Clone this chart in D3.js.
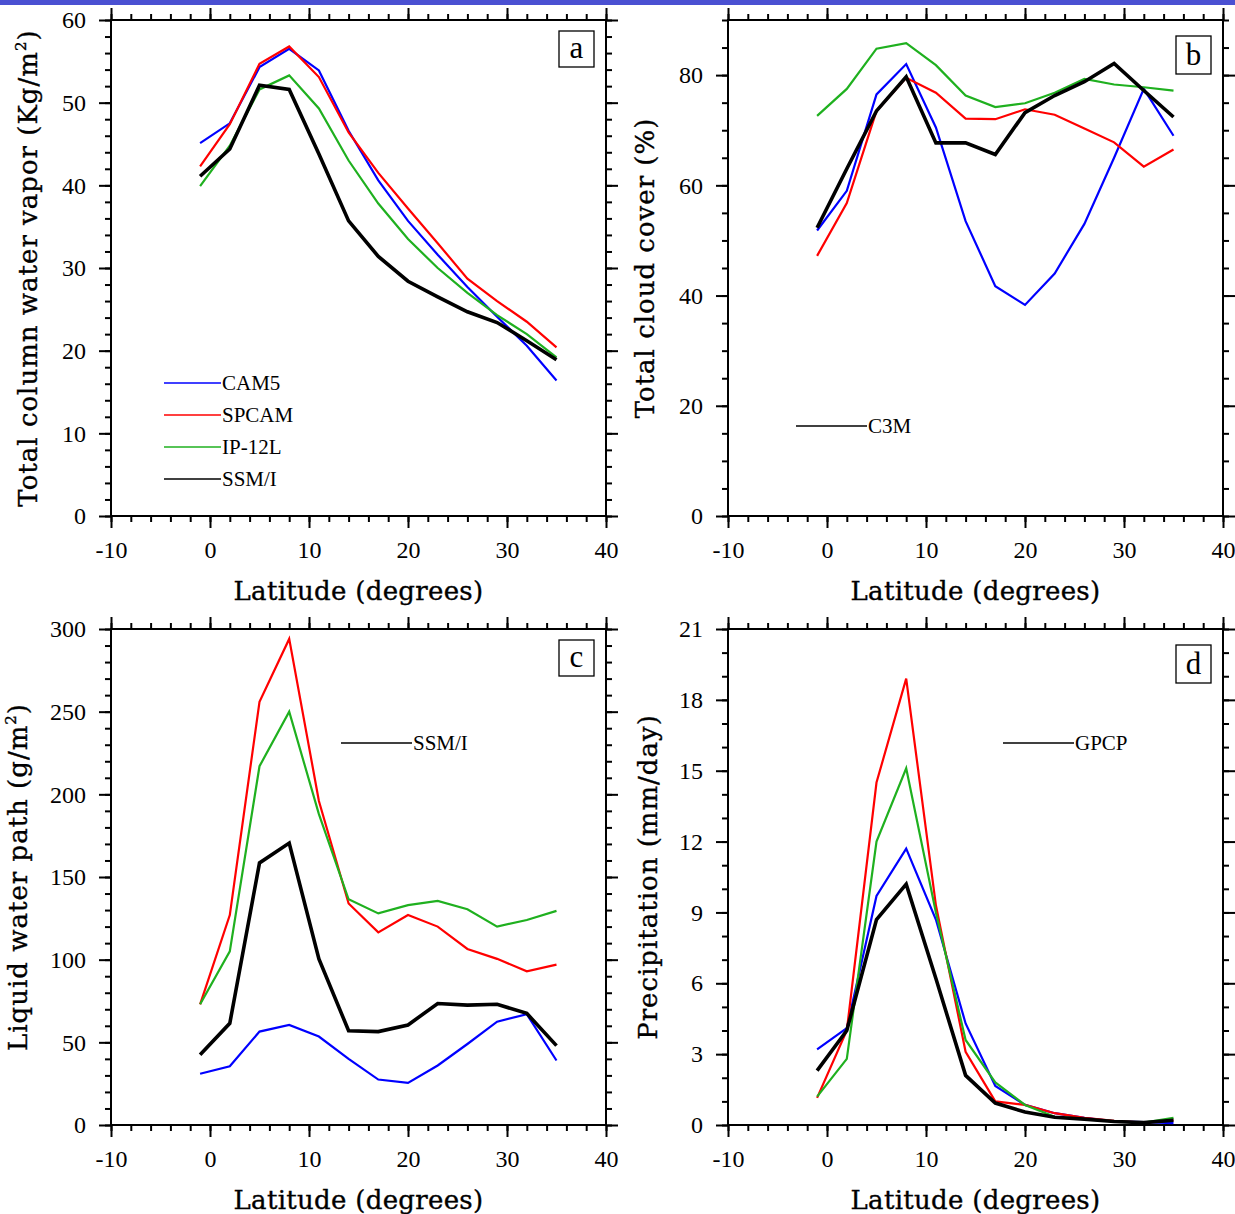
<!DOCTYPE html>
<html>
<head>
<meta charset="utf-8">
<script src="https://cdn.jsdelivr.net/npm/d3@7"></script>
<style>
  body { margin: 0; background: #fff; }
  svg { display: block; }
</style>
</head>
<body>
<div id="chart-container"></div>
<script>
// Latitudes of the zonal-mean points
var latitudes = [-1, 2, 5, 8, 11, 14, 17, 20, 23, 26, 29, 32, 35];

// Panel a: total column water vapor (Kg/m2)
var tcwvCAM5  = [45.1, 47.5, 54.3, 56.5, 53.9, 46.6, 40.6, 35.7, 31.6, 27.7, 24.1, 20.6, 16.4];
var tcwvSPCAM = [42.3, 47.4, 54.7, 56.8, 53.1, 46.4, 41.5, 37.2, 33.0, 28.7, 26.0, 23.5, 20.4];
var tcwvIP12L = [39.9, 44.8, 51.6, 53.3, 49.3, 43.0, 37.8, 33.5, 30.0, 27.0, 24.3, 22.0, 19.2];
var tcwvSSMI  = [41.1, 44.4, 52.1, 51.6, 43.8, 35.7, 31.4, 28.4, 26.5, 24.7, 23.4, 21.2, 18.9];

// Panel b: total cloud cover (%)
var cldCAM5  = [51.8, 59.0, 76.5, 82.0, 70.5, 53.5, 41.7, 38.3, 44.0, 53.0, 65.0, 77.5, 69.0];
var cldSPCAM = [47.2, 56.8, 73.5, 79.5, 76.8, 72.1, 72.0, 73.8, 72.8, 70.3, 67.8, 63.4, 66.5];
var cldIP12L = [72.6, 77.5, 84.8, 85.8, 81.8, 76.3, 74.2, 74.9, 76.8, 79.3, 78.3, 77.8, 77.2];
var cldC3M   = [52.3, 63.0, 73.5, 79.7, 67.7, 67.7, 65.6, 73.2, 76.3, 78.8, 82.1, 77.2, 72.4];

// Panel c: liquid water path (g/m2)
var lwpCAM5  = [31.0, 35.5, 56.5, 60.5, 53.5, 40.0, 27.5, 25.5, 36.0, 49.0, 62.5, 67.0, 39.0];
var lwpSPCAM = [73.0, 127.0, 256.0, 294.0, 196.0, 134.0, 116.5, 127.0, 120.0, 106.5, 100.5, 93.0, 97.0];
var lwpIP12L = [73.0, 105.0, 217.0, 250.0, 188.0, 136.5, 128.0, 133.0, 135.5, 130.5, 120.0, 124.0, 129.5];
var lwpSSMI  = [42.5, 61.5, 158.5, 170.5, 100.5, 57.0, 56.5, 60.5, 73.5, 72.5, 73.0, 67.5, 48.0];

// Panel d: precipitation (mm/day)
var preCAM5  = [3.2, 4.1, 9.7, 11.7, 8.7, 4.3, 1.65, 0.85, 0.5, 0.3, 0.15, 0.12, 0.08];
var preSPCAM = [1.15, 4.0, 14.5, 18.9, 9.3, 3.1, 1.0, 0.85, 0.5, 0.3, 0.18, 0.1, 0.2];
var preIP12L = [1.2, 2.8, 12.0, 15.1, 9.0, 3.6, 1.8, 0.85, 0.35, 0.25, 0.15, 0.1, 0.3];
var preGPCP  = [2.3, 4.0, 8.7, 10.2, 6.2, 2.1, 0.93, 0.55, 0.33, 0.25, 0.15, 0.1, 0.2];

var seriesNames = ["CAM5", "SPCAM", "IP-12L"];
var seriesColors = ["#0000ff", "#ff0000", "#1fb01f"];

var panels = [
  { label: "a", x: 111, y: 20, yMax: 60, yStep: 10, yMinor: 2,
    title: ["Total column water vapor (Kg/m", "2", ")"], titleX: 28,
    series: [tcwvCAM5, tcwvSPCAM, tcwvIP12L, tcwvSSMI], obsName: "SSM/I",
    legend: "full", legX: 164, legY: 383 },
  { label: "b", x: 728, y: 20, yMax: 90, yStep: 20, yMinor: 5,
    title: ["Total cloud cover (%)"], titleX: 645,
    series: [cldCAM5, cldSPCAM, cldIP12L, cldC3M], obsName: "C3M",
    legend: "obs", legX: 796, legY: 426 },
  { label: "c", x: 111, y: 629, yMax: 300, yStep: 50, yMinor: 10,
    title: ["Liquid water path (g/m", "2", ")"], titleX: 18,
    series: [lwpCAM5, lwpSPCAM, lwpIP12L, lwpSSMI], obsName: "SSM/I",
    legend: "obs", legX: 341, legY: 743 },
  { label: "d", x: 728, y: 629, yMax: 21, yStep: 3, yMinor: 1,
    title: ["Precipitation (mm/day)"], titleX: 648,
    series: [preCAM5, preSPCAM, preIP12L, preGPCP], obsName: "GPCP",
    legend: "obs", legX: 1003, legY: 743 }
];

var W = 1235, H = 1214;
var plotW = 495, plotH = 496;
var serif = "'Liberation Serif', 'Times New Roman', serif";
var titleFont = "'DejaVu Serif', serif";

var svg = d3.select("#chart-container").append("svg")
  .attr("width", W)
  .attr("height", H);

// blue strip along the top edge
svg.append("rect").attr("x", 0).attr("y", 0).attr("width", W).attr("height", 5).attr("fill", "#4a50d2");

panels.forEach(function(p) {
  var g = svg.append("g").attr("transform", "translate(" + p.x + "," + p.y + ")");

  var x = d3.scaleLinear().domain([-10, 40]).range([0, plotW]);
  var y = d3.scaleLinear().domain([0, p.yMax]).range([plotH, 0]);

  var xMajor = d3.range(-10, 40.001, 10);
  var xMinor = d3.range(-10, 40.001, 2);
  var yMajor = d3.range(0, p.yMax + 0.001, p.yStep);
  var yMinor = d3.range(0, p.yMax + 0.001, p.yMinor);

  function addAxis(axis, transform, labels) {
    var a = g.append("g").attr("transform", transform).call(axis);
    a.select(".domain").remove();
    a.selectAll("line").attr("stroke", "#000").attr("stroke-width", 2);
    if (labels) {
      a.selectAll("text").attr("font-family", serif).attr("font-size", 24).attr("fill", "#000");
    } else {
      a.selectAll("text").remove();
    }
    return a;
  }

  // minor ticks
  addAxis(d3.axisBottom(x).tickValues(xMinor).tickSize(6).tickSizeOuter(0), "translate(0," + plotH + ")", false);
  addAxis(d3.axisTop(x).tickValues(xMinor).tickSize(6).tickSizeOuter(0), "translate(0,0)", false);
  addAxis(d3.axisLeft(y).tickValues(yMinor).tickSize(6).tickSizeOuter(0), "translate(0,0)", false);
  addAxis(d3.axisRight(y).tickValues(yMinor).tickSize(6).tickSizeOuter(0), "translate(" + plotW + ",0)", false);

  // major ticks
  var bx = addAxis(d3.axisBottom(x).tickValues(xMajor).tickSize(12).tickSizeOuter(0).tickPadding(13)
    .tickFormat(d3.format("d")), "translate(0," + plotH + ")", true);
  bx.selectAll("text").text(function(d) { return d < 0 ? "-" + Math.abs(d) : d; });
  addAxis(d3.axisTop(x).tickValues(xMajor).tickSize(12).tickSizeOuter(0), "translate(0,0)", false);
  addAxis(d3.axisLeft(y).tickValues(yMajor).tickSize(12).tickSizeOuter(0).tickPadding(13)
    .tickFormat(d3.format("d")), "translate(0,0)", true);
  addAxis(d3.axisRight(y).tickValues(yMajor).tickSize(12).tickSizeOuter(0), "translate(" + plotW + ",0)", false);

  // frame
  g.append("rect").attr("x", 0).attr("y", 0).attr("width", plotW).attr("height", plotH)
    .attr("fill", "none").attr("stroke", "#000").attr("stroke-width", 2);

  // lines
  var line = d3.line()
    .x(function(d, i) { return x(latitudes[i]); })
    .y(function(d) { return y(d); });

  p.series.forEach(function(s, k) {
    g.append("path").datum(s)
      .attr("d", line)
      .attr("fill", "none")
      .attr("stroke", k < 3 ? seriesColors[k] : "#000")
      .attr("stroke-width", k < 3 ? 2.2 : 3.6)
      .attr("stroke-linejoin", "miter");
  });

  // x axis title
  g.append("text")
    .attr("x", plotW / 2).attr("y", plotH + 84)
    .attr("text-anchor", "middle")
    .attr("font-family", titleFont).attr("font-size", 26)
    .attr("letter-spacing", 0.3)
    .attr("stroke", "#000").attr("stroke-width", 0.35)
    .text("Latitude (degrees)");

  // y axis title
  var cy = p.y + plotH / 2;
  var yt = svg.append("text")
    .attr("transform", "translate(" + (p.titleX + 9) + "," + cy + ") rotate(-90)")
    .attr("text-anchor", "middle")
    .attr("font-family", titleFont).attr("font-size", 26)
    .attr("letter-spacing", 1)
    .attr("stroke", "#000").attr("stroke-width", 0.35);
  yt.append("tspan").text(p.title[0]);
  if (p.title.length > 1) {
    yt.append("tspan").attr("font-size", 15).attr("dy", -11).text(p.title[1]);
    yt.append("tspan").attr("dy", 11).text(p.title[2]);
  }

  // panel label box
  var small = p.label === "a" || p.label === "c";
  g.append("rect")
    .attr("x", plotW - 47).attr("y", small ? 11 : 16)
    .attr("width", 35).attr("height", small ? 36 : 38)
    .attr("fill", "#fff").attr("stroke", "#000").attr("stroke-width", 1.3);
  g.append("text")
    .attr("x", plotW - 29.5).attr("y", small ? 38 : 45)
    .attr("text-anchor", "middle")
    .attr("font-family", serif).attr("font-size", 31)
    .text(p.label);

  // legend
  var entries = p.legend === "full"
    ? seriesNames.map(function(n, i) { return { name: n, color: seriesColors[i] }; })
        .concat([{ name: p.obsName, color: "#000" }])
    : [{ name: p.obsName, color: "#000" }];
  var lineLen = p.legend === "full" ? 57 : 71;
  entries.forEach(function(e, i) {
    var ly = p.legY + i * 32;
    svg.append("line")
      .attr("x1", p.legX).attr("x2", p.legX + lineLen)
      .attr("y1", ly).attr("y2", ly)
      .attr("stroke", e.color).attr("stroke-width", 1.3);
    svg.append("text")
      .attr("x", p.legX + lineLen + 1).attr("y", ly + 7)
      .attr("font-family", serif).attr("font-size", 21)
      .text(e.name);
  });
});
</script>
</body>
</html>
